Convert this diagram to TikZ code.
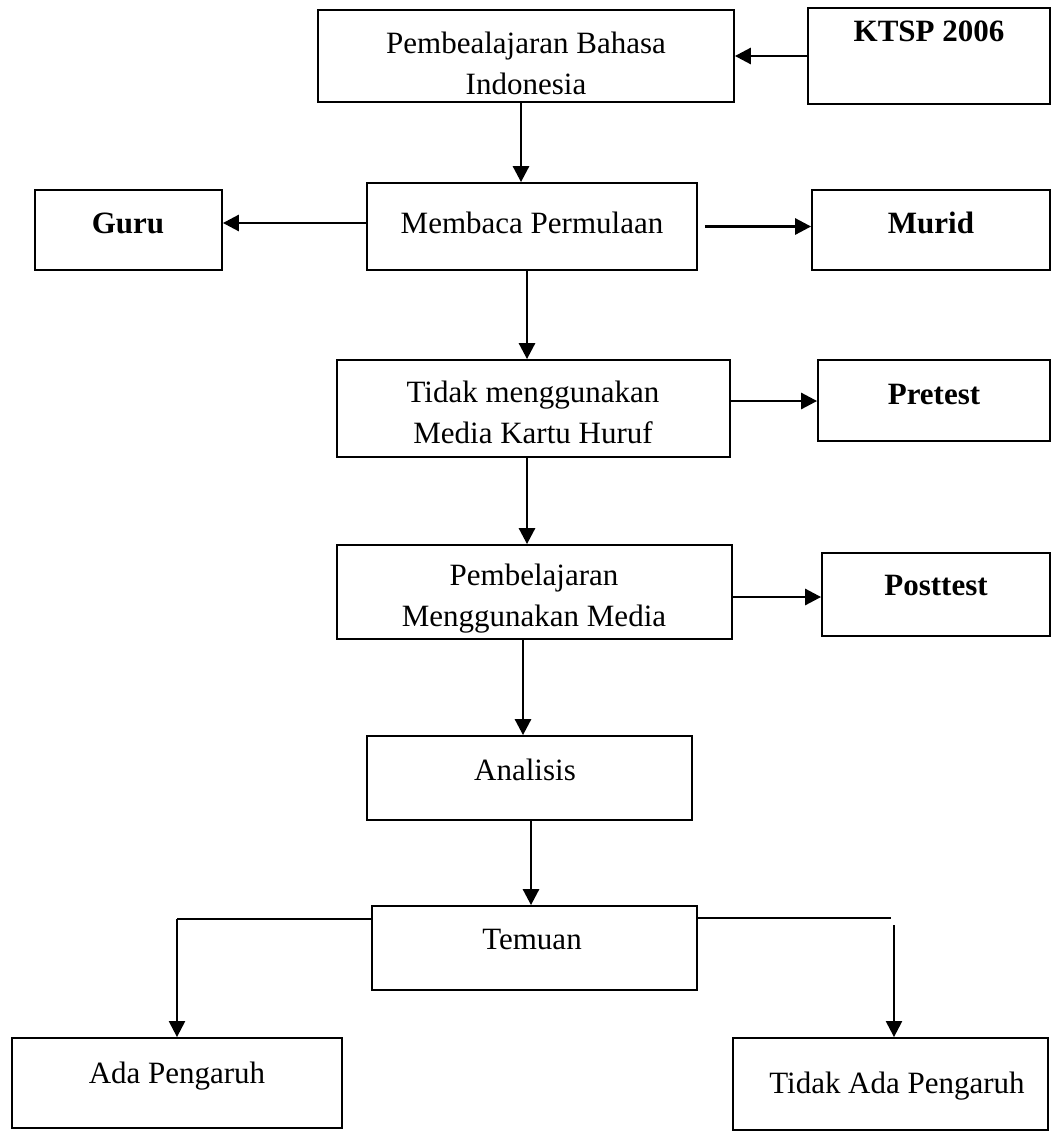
\documentclass[tikz,border=0pt]{standalone}
\usepackage{fontspec}
\setmainfont{Liberation Serif}
\usetikzlibrary{arrows.meta,calc}
\begin{document}
\begin{tikzpicture}[x=1pt,y=-1pt,
  box/.style={draw, line width=1.8pt, inner sep=0pt, rectangle},
  txt/.style={inner sep=0pt, font=\fontsize{31}{41}\selectfont, align=center},
  btxt/.style={inner sep=0pt, font=\fontsize{31}{41}\selectfont\bfseries, align=center},
  arr/.style={line width=2.8pt, -{Triangle[length=16pt,width=16pt]}},
  ln/.style={line width=1.6pt}]
\fill[white] (0,0) rectangle (1057,1138);
\useasboundingbox (0,0) rectangle (1057,1138);

% boxes
\node[box, minimum width=416pt, minimum height=92pt] (p1) at (526,56) {};
\node[box, minimum width=242pt, minimum height=96pt] (ktsp) at (929,56) {};
\node[box, minimum width=187pt, minimum height=80pt] (guru) at (128.5,230) {};
\node[box, minimum width=330pt, minimum height=87pt] (mp) at (532,226.5) {};
\node[box, minimum width=238pt, minimum height=80pt] (murid) at (931,230) {};
\node[box, minimum width=393pt, minimum height=97pt] (tm) at (533.5,408.5) {};
\node[box, minimum width=232pt, minimum height=81pt] (pre) at (934,400.5) {};
\node[box, minimum width=395pt, minimum height=94pt] (pm) at (534.5,592) {};
\node[box, minimum width=228pt, minimum height=83pt] (post) at (936,594.5) {};
\node[box, minimum width=325pt, minimum height=84pt] (an) at (529.5,778) {};
\node[box, minimum width=325pt, minimum height=84pt] (tem) at (534.5,948) {};
\node[box, minimum width=330pt, minimum height=90pt] (ada) at (177,1083) {};
\node[box, minimum width=315pt, minimum height=92pt] (tada) at (890.5,1084) {};

% texts
\node[txt] (t1) at (526,63) {Pembealajaran Bahasa\\Indonesia};
\node[btxt, anchor=base] (t2) at (929,41) {KTSP 2006};
\node[btxt, anchor=base] (t3) at (128,233) {Guru};
\node[txt, anchor=base] (t4) at (532,233) {Membaca Permulaan};
\node[btxt, anchor=base] (t5) at (931,233) {Murid};
\node[txt] (t6) at (533,412) {Tidak menggunakan\\Media Kartu Huruf};
\node[btxt, anchor=base] (t7) at (934,404) {Pretest};
\node[txt] (t8) at (534,599) {Pembelajaran\\Menggunakan Media};
\node[btxt, anchor=base] (t9) at (936,595) {Posttest};
\node[txt, anchor=base] (t10) at (525,780) {Analisis};
\node[txt, anchor=base] (t11) at (532,949) {Temuan};
\node[txt, anchor=base] (t12) at (177,1083) {Ada Pengaruh};
\node[txt, anchor=base] (t13) at (897,1093) {Tidak Ada Pengaruh};

% connectors
\draw[arr] (ktsp.west) -- (p1.east);
\draw[arr] ([xshift=-5pt]p1.south) -- ([xshift=-5pt]p1.south |- mp.north);
\draw[arr] ([yshift=3.5pt]mp.west) -- ([yshift=3.5pt]mp.west -| guru.east);
\draw[arr] ([xshift=7pt]mp.east) -- (mp.east -| murid.west);
\draw[arr] ([xshift=-5pt]mp.south) -- ([xshift=-5pt]mp.south |- tm.north);
\draw[arr] ([yshift=7.5pt]tm.east) -- ([yshift=7.5pt]tm.east -| pre.west);
\draw[arr] ([xshift=-6.5pt]tm.south) -- ([xshift=-6.5pt]tm.south |- pm.north);
\draw[arr] ([yshift=-5pt]pm.east) -- ([yshift=-5pt]pm.east -| post.west);
\draw[arr] ([xshift=-11.5pt]pm.south) -- ([xshift=-11.5pt]pm.south |- an.north);
\draw[arr] ([xshift=1.5pt]an.south) -- ([xshift=1.5pt]an.south |- tem.north);
\coordinate (lc) at ([yshift=29pt]tem.west -| ada.north);
\draw[ln] ([yshift=29pt]tem.west) -- (lc);
\draw[arr, line width=2.2pt] (lc) -- (ada.north);
\coordinate (rc) at ([yshift=30pt,xshift=-2pt]tem.east -| tada.north);
\draw[ln] ([yshift=30pt]tem.east) -- ([xshift=2.5pt]rc);
\coordinate (rd) at ([xshift=5.5pt,yshift=-7pt]rc);
\draw[arr, line width=2.2pt] (rd) -- (rd |- tada.north);
\end{tikzpicture}
\end{document}
